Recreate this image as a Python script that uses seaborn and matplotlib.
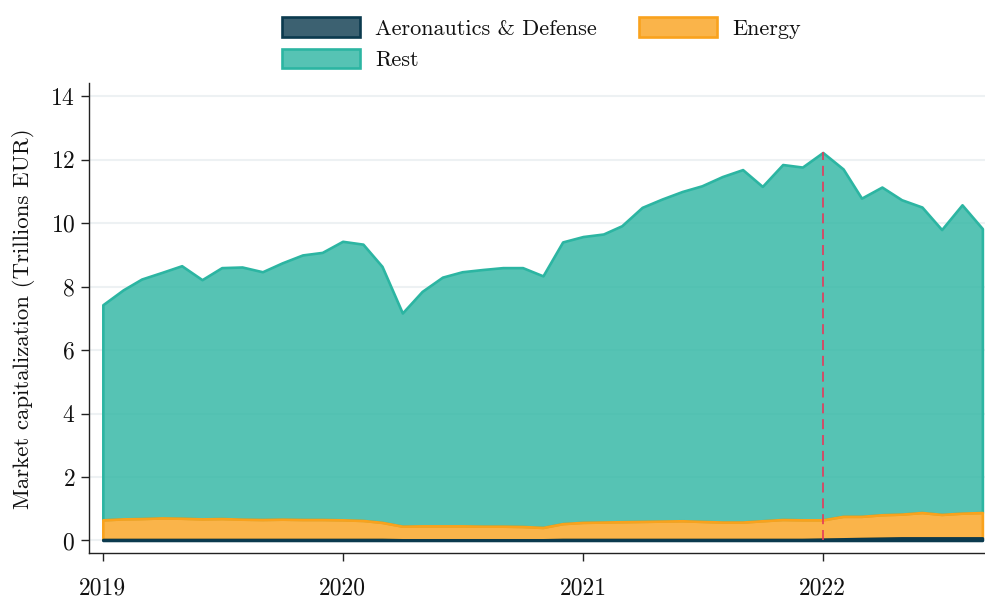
import numpy as np
import pandas as pd
import matplotlib
matplotlib.use("Agg")
import matplotlib.pyplot as plt
import seaborn as sns

# ---- data (trillions EUR, monthly, 2019-01 .. 2022-09) ----
months = pd.date_range("2019-01-01", periods=45, freq="MS")

total_top = [
    7.43, 7.90, 8.24, 8.45, 8.66, 8.22, 8.60, 8.62, 8.47, 8.75, 9.00, 9.08,
    9.43, 9.34, 8.64, 7.17, 7.85, 8.30, 8.47, 8.54, 8.60, 8.60, 8.34, 9.41,
    9.58, 9.66, 9.92, 10.50, 10.76, 11.00, 11.18, 11.47, 11.69, 11.16, 11.85, 11.77,
    12.23, 11.71, 10.79, 11.14, 10.74, 10.51, 9.80, 10.58, 9.83,
]
energy_top = [
    0.65, 0.68, 0.69, 0.71, 0.70, 0.68, 0.69, 0.67, 0.66, 0.67, 0.66, 0.66,
    0.65, 0.63, 0.57, 0.45, 0.46, 0.46, 0.46, 0.45, 0.45, 0.44, 0.41, 0.53,
    0.57, 0.58, 0.59, 0.60, 0.61, 0.62, 0.60, 0.58, 0.58, 0.62, 0.66, 0.65,
    0.65, 0.76, 0.76, 0.81, 0.83, 0.88, 0.82, 0.86, 0.88,
]
aero = [
    0.03, 0.03, 0.03, 0.03, 0.03, 0.03, 0.03, 0.03, 0.03, 0.03, 0.03, 0.03,
    0.03, 0.03, 0.03, 0.02, 0.02, 0.02, 0.02, 0.02, 0.02, 0.02, 0.02, 0.03,
    0.03, 0.03, 0.03, 0.03, 0.03, 0.03, 0.03, 0.03, 0.03, 0.03, 0.03, 0.03,
    0.04, 0.05, 0.06, 0.07, 0.08, 0.08, 0.08, 0.08, 0.08,
]
energy = [e - a for e, a in zip(energy_top, aero)]
rest = [t - e for t, e in zip(total_top, energy_top)]

series_names = ["Aeronautics & Defense", "Energy", "Rest"]
series_values = [aero, energy, rest]
series_colors = ["#0b3a4e", "#f9a21d", "#2cb5a2"]
series_z = [4, 3, 2]
marker_date = pd.Timestamp("2022-01-01")

# ---- style ----
sns.set_theme(style="white")
plt.rcParams["font.family"] = ["cmr10", "DejaVu Serif"]
plt.rcParams["mathtext.fontset"] = "cm"
plt.rcParams["axes.formatter.use_mathtext"] = True
plt.rcParams["axes.unicode_minus"] = False

fig = plt.figure(figsize=(9.85, 5.98), dpi=100)
ax = fig.add_axes([0.0904, 0.0745, 0.9096, 0.7867])

base = np.zeros(len(months))
handles = {}
for name, vals, col, z in zip(series_names, series_values, series_colors, series_z):
    top = base + np.array(vals)
    rgba = matplotlib.colors.to_rgba(col, 0.8)
    h = ax.fill_between(months, base, top, facecolor=rgba, edgecolor=col,
                        linewidth=1.9, label=name, zorder=z)
    handles[name] = h
    base = top

idx = list(months).index(marker_date)
ax.vlines(marker_date, 0, base[idx], colors="#e63a5a", linestyles=(0, (6, 3.5)),
          linewidth=1.2, zorder=5)

ax.set_ylim(-0.41, 14.42)
ax.set_xlim(pd.Timestamp("2018-12-11"), pd.Timestamp("2022-09-05"))
ax.set_yticks([0, 2, 4, 6, 8, 10, 12, 14])
ax.set_xticks([pd.Timestamp(f"{y}-01-01") for y in (2019, 2020, 2021, 2022)])
ax.set_xticklabels(["2019", "2020", "2021", "2022"])

ax.yaxis.grid(True, color="#edf1f3", linewidth=1.5, zorder=0)
ax.xaxis.grid(False)
ax.set_axisbelow(True)

for s in ("top", "right"):
    ax.spines[s].set_visible(False)
for s in ("left", "bottom"):
    ax.spines[s].set_color("#222222")
    ax.spines[s].set_linewidth(1.0)

ax.tick_params(axis="both", which="major", labelsize=17, length=6, width=1,
               color="#222222", labelcolor="#111111", direction="out",
               bottom=True, left=True)
ax.tick_params(axis="x", pad=11)
ax.tick_params(axis="y", pad=4)
ax.set_ylabel("Market capitalization (Trillions EUR)", fontsize=16.5,
              labelpad=11, color="#111111")
ax.set_xlabel("")

order = ["Aeronautics & Defense", "Rest", "Energy"]
leg = ax.legend([handles[n] for n in order], order, loc="lower center",
                bbox_to_anchor=(0.505, 0.985), ncol=2, frameon=False, fontsize=16,
                handlelength=3.5, handleheight=1.0, handletextpad=0.7,
                columnspacing=1.9, labelspacing=0.45)
for t in leg.get_texts():
    t.set_color("#111111")

fig.savefig("out.png", dpi=100)
